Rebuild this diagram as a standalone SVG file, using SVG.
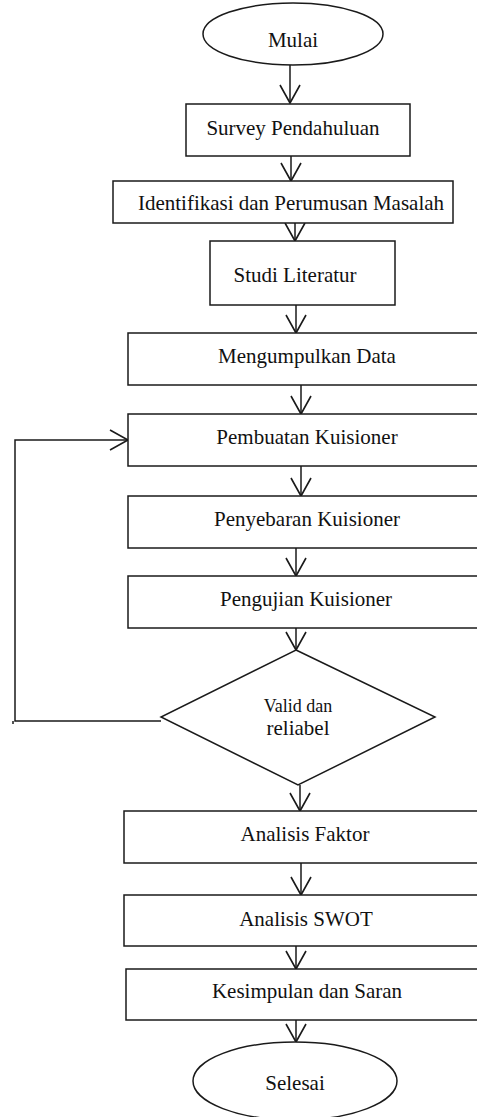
<svg xmlns="http://www.w3.org/2000/svg" width="477" height="1117" viewBox="0 0 477 1117">
<style>
.s{fill:#fff;stroke:#1a1a1a;stroke-width:1.5}
.t{font-family:"Liberation Serif","Times New Roman",serif;font-size:21px;fill:#111;text-anchor:middle}
.c{fill:none;stroke:#1a1a1a;stroke-width:1.5}
</style>
<defs>
<marker id="a" markerUnits="userSpaceOnUse" viewBox="0 -11 19 22" refX="18" refY="0" markerWidth="19" markerHeight="22" orient="auto" overflow="visible">
<path d="M0,-10 L18,0 L0,10" fill="none" stroke="#1a1a1a" stroke-width="1.6"/>
</marker>
</defs>
<g id="connectors">
<line class="c" x1="290" y1="65" x2="290" y2="103" marker-end="url(#a)"/>
<line class="c" x1="291" y1="156" x2="291" y2="181" marker-end="url(#a)"/>
<line class="c" x1="295" y1="223" x2="295" y2="241" marker-end="url(#a)"/>
<line class="c" x1="296" y1="305" x2="296" y2="333" marker-end="url(#a)"/>
<line class="c" x1="301" y1="385" x2="301" y2="414" marker-end="url(#a)"/>
<line class="c" x1="301" y1="466" x2="301" y2="496" marker-end="url(#a)"/>
<line class="c" x1="296" y1="548" x2="296" y2="576" marker-end="url(#a)"/>
<line class="c" x1="296" y1="628" x2="296" y2="650" marker-end="url(#a)"/>
<line class="c" x1="300" y1="785" x2="300" y2="811" marker-end="url(#a)"/>
<line class="c" x1="301" y1="863" x2="301" y2="895" marker-end="url(#a)"/>
<line class="c" x1="296" y1="946" x2="296" y2="969" marker-end="url(#a)"/>
<line class="c" x1="296" y1="1020" x2="296" y2="1042" marker-end="url(#a)"/>
<polyline class="c" points="161,721 15,721 15,440 128,440" marker-end="url(#a)"/>
<line class="c" x1="13" y1="721" x2="13" y2="724"/>
</g>
<g id="mulai"><ellipse class="s" cx="293" cy="34" rx="90" ry="31"/><text class="t" x="293" y="47">Mulai</text></g>
<g id="survey"><rect class="s" x="186" y="104" width="224" height="52"/><text class="t" x="293" y="135">Survey Pendahuluan</text></g>
<g id="identifikasi"><rect class="s" x="113" y="181" width="340" height="42"/><text class="t" x="291" y="210">Identifikasi dan Perumusan Masalah</text></g>
<g id="studi"><rect class="s" x="210" y="241" width="185" height="64"/><text class="t" x="295" y="282">Studi Literatur</text></g>
<g id="mengumpulkan"><rect class="s" x="128" y="333" width="360" height="52"/><text class="t" x="307" y="363">Mengumpulkan Data</text></g>
<g id="pembuatan"><rect class="s" x="128" y="414" width="360" height="52"/><text class="t" x="307" y="444">Pembuatan Kuisioner</text></g>
<g id="penyebaran"><rect class="s" x="128" y="496" width="360" height="52"/><text class="t" x="307" y="526">Penyebaran Kuisioner</text></g>
<g id="pengujian"><rect class="s" x="128" y="576" width="360" height="52"/><text class="t" x="306" y="606">Pengujian Kuisioner</text></g>
<g id="valid"><polygon class="s" points="296,650 435,717 298,785 161,717"/><text class="t" x="298" y="712" style="font-size:18px">Valid dan</text><text class="t" x="298" y="735">reliabel</text></g>
<g id="faktor"><rect class="s" x="124" y="811" width="364" height="52"/><text class="t" x="305" y="841">Analisis Faktor</text></g>
<g id="swot"><rect class="s" x="124" y="895" width="364" height="51"/><text class="t" x="306" y="926">Analisis SWOT</text></g>
<g id="kesimpulan"><rect class="s" x="126" y="969" width="362" height="51"/><text class="t" x="307" y="998">Kesimpulan dan Saran</text></g>
<g id="selesai"><ellipse class="s" cx="295" cy="1081" rx="102" ry="39"/><text class="t" x="295" y="1090">Selesai</text></g>
</svg>
